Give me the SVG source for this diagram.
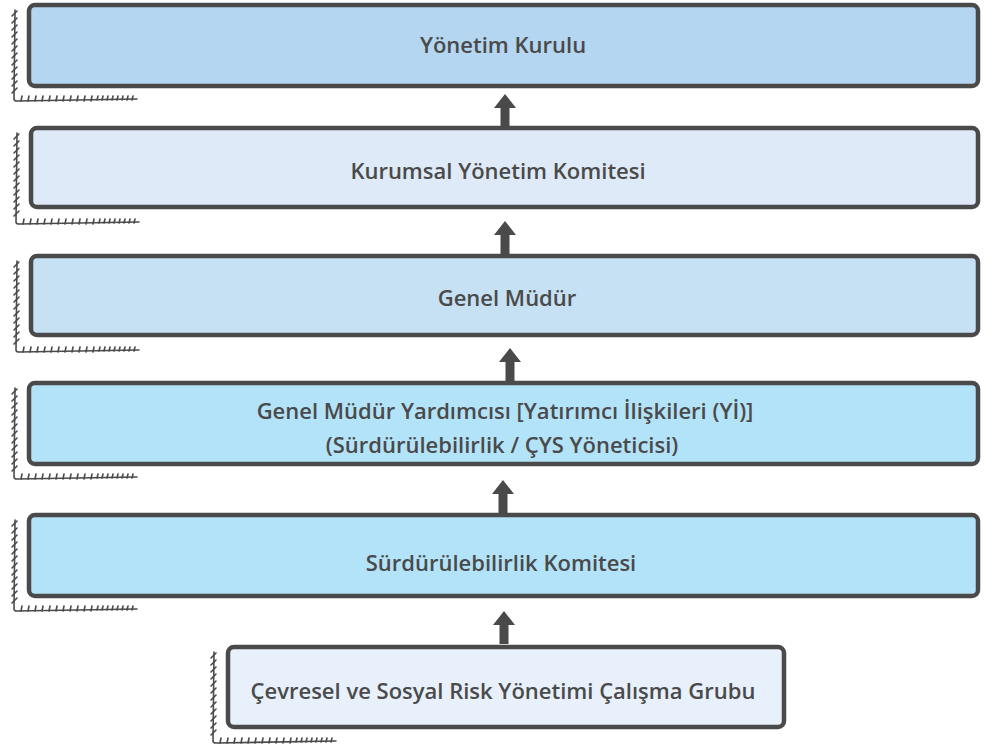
<svg xmlns="http://www.w3.org/2000/svg" width="1000" height="744" viewBox="0 0 1000 744">
<style>
.box{stroke:#4a4a4a;stroke-width:4.5;stroke-linejoin:round}
.lbl{font-family:"Open Sans","Noto Sans","Liberation Sans",sans-serif;font-weight:600;font-size:22px;fill:#4a4a4a;text-anchor:middle}
.sh{fill:none;stroke:#4a4a4a;stroke-width:1.6;stroke-linecap:round}
.arr{fill:#4a4a4a}
</style>
<defs>
<g id="shadow">
<path class="sh" d="M-12,7 L-13,96 Q-13,98 -10,98 L110,96"/>
<path class="sh" d="M-15,13 l5,-5 M-15,20 l5,-5 M-15,27 l5,-5 M-15,34 l5,-5 M-15,41 l5,-5 M-15,48 l5,-5 M-15,55 l5,-5 M-15,62 l5,-5 M-15,69 l5,-5 M-15,76 l5,-5 M-15,83 l5,-5 M-15,90 l5,-5"/>
<path class="sh" d="M-6,98 l1,-5 M1,98 l1,-5 M8,98 l1,-5 M15,98 l1,-5 M22,98 l1,-5 M29,98 l1,-5 M36,98 l1,-5 M43,98 l1,-5 M50,98 l1,-5 M57,98 l1,-5 M64,98 l1,-5 M70,97 l1,-4 M75,97 l1,-4 M80,97 l1,-4 M85,97 l1,-4 M90,97 l1,-4 M95,97 l1,-4 M100,97 l1,-4 M105,97 l1,-4"/>
</g>
<path id="arrow" d="M0,0 L11,14 L4.5,14 L4.5,33 L-4.5,33 L-4.5,14 L-11,14 Z"/>
</defs>
<g id="connectors">
<use href="#arrow" class="arr" x="505" y="94"/>
<use href="#arrow" class="arr" x="505" y="221"/>
<use href="#arrow" class="arr" x="510" y="348"/>
<use href="#arrow" class="arr" x="503" y="480"/>
<use href="#arrow" class="arr" x="504" y="611"/>
</g>
<g id="n1">
<use href="#shadow" x="27" y="3"/>
<rect class="box" x="29" y="5" width="949" height="81" rx="6" fill="#b4d6f1"/>
<text class="lbl" x="503" y="53">Yönetim Kurulu</text>
</g>
<g id="n2">
<use href="#shadow" x="29" y="126"/>
<rect class="box" x="31" y="128" width="947" height="79" rx="6" fill="#deeaf7"/>
<text class="lbl" x="498" y="179">Kurumsal Yönetim Komitesi</text>
</g>
<g id="n3">
<use href="#shadow" x="29" y="254"/>
<rect class="box" x="31" y="256" width="947" height="79" rx="6" fill="#c6e0f4"/>
<text class="lbl" x="507" y="306">Genel Müdür</text>
</g>
<g id="n4">
<use href="#shadow" x="27" y="381"/>
<rect class="box" x="29" y="383" width="949" height="81" rx="6" fill="#b3e3f9"/>
<text class="lbl" x="505" y="419">Genel Müdür Yardımcısı [Yatırımcı İlişkileri (Yİ)]</text>
<text class="lbl" x="502" y="453">(Sürdürülebilirlik / ÇYS Yöneticisi)</text>
</g>
<g id="n5">
<use href="#shadow" x="27" y="513"/>
<rect class="box" x="29" y="515" width="949" height="81" rx="6" fill="#b3e3f9"/>
<text class="lbl" x="501" y="571">Sürdürülebilirlik Komitesi</text>
</g>
<g id="n6">
<use href="#shadow" x="226" y="645"/>
<rect class="box" x="228" y="647" width="556" height="80" rx="6" fill="#e7f0fb"/>
<text class="lbl" x="503" y="699">Çevresel ve Sosyal Risk Yönetimi Çalışma Grubu</text>
</g>
</svg>
